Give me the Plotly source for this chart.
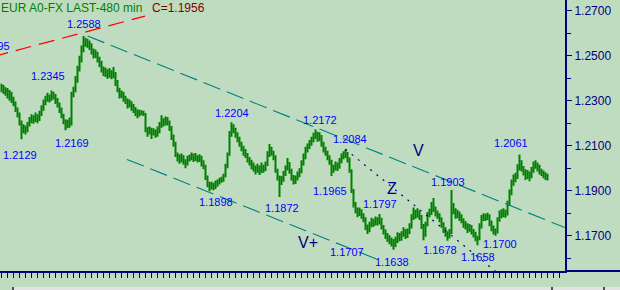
import plotly.graph_objects as go

# ---------------- data (EUR A0-FX, 480-min bars) ----------------
first_open = 1.2350
close = [
    1.2362, 1.2340, 1.2351, 1.2328, 1.2335, 1.2305, 1.2290, 1.2262, 1.2240, 1.2205,
    1.2172, 1.2180, 1.2168, 1.2195, 1.2210, 1.2222, 1.2215, 1.2230, 1.2218, 1.2240,
    1.2268, 1.2290, 1.2305, 1.2318, 1.2310, 1.2330, 1.2322, 1.2300, 1.2285, 1.2262,
    1.2235, 1.2210, 1.2190, 1.2200, 1.2195, 1.2330, 1.2345, 1.2390, 1.2440, 1.2480,
    1.2525, 1.2560, 1.2565, 1.2550, 1.2545, 1.2520, 1.2505, 1.2510, 1.2485, 1.2470,
    1.2440, 1.2425, 1.2430, 1.2415, 1.2428, 1.2410, 1.2420, 1.2385, 1.2350, 1.2325,
    1.2330, 1.2310, 1.2300, 1.2282, 1.2290, 1.2270, 1.2260, 1.2250, 1.2238, 1.2248,
    1.2245, 1.2240, 1.2170, 1.2165, 1.2172, 1.2158, 1.2165, 1.2150, 1.2162, 1.2190,
    1.2210, 1.2200, 1.2215, 1.2205, 1.2180, 1.2140, 1.2110, 1.2060, 1.2045, 1.2035,
    1.2050, 1.2030, 1.2020, 1.2040, 1.2045, 1.2055, 1.2040, 1.2050, 1.2035, 1.2045,
    1.2025, 1.2010, 1.1960, 1.1930, 1.1915, 1.1925, 1.1918, 1.1930, 1.1935, 1.1945,
    1.1950, 1.1965, 1.2010, 1.2060, 1.2150, 1.2185, 1.2170, 1.2150, 1.2130, 1.2110,
    1.2090, 1.2070, 1.2060, 1.2040, 1.2030, 1.2010, 1.2000, 1.1990, 1.2005, 1.1985,
    1.2000, 1.1995, 1.2015, 1.2060, 1.2085, 1.2070, 1.2050, 1.1990, 1.1960, 1.1940,
    1.1950, 1.1975, 1.2000, 1.2020, 1.1990, 1.1960, 1.1945, 1.1955, 1.1970, 1.1985,
    1.2020, 1.2050, 1.2080, 1.2095, 1.2110, 1.2125, 1.2140, 1.2150, 1.2130, 1.2140,
    1.2110, 1.2085, 1.2070, 1.2050, 1.2030, 1.1995, 1.2000, 1.2015, 1.2005, 1.2030,
    1.2050, 1.2060, 1.2065, 1.2040, 1.1990, 1.1900, 1.1840, 1.1815, 1.1800, 1.1810,
    1.1790, 1.1775, 1.1740, 1.1725, 1.1750, 1.1765, 1.1755, 1.1770, 1.1760, 1.1775,
    1.1740, 1.1720, 1.1700, 1.1690, 1.1680, 1.1670, 1.1660, 1.1680, 1.1700, 1.1690,
    1.1705, 1.1720, 1.1700, 1.1715, 1.1740, 1.1780, 1.1800, 1.1790, 1.1805, 1.1785,
    1.1745, 1.1700, 1.1750, 1.1790, 1.1800, 1.1830, 1.1820, 1.1800, 1.1790, 1.1775,
    1.1750, 1.1730, 1.1710, 1.1700, 1.1715, 1.1830, 1.1810, 1.1790, 1.1800, 1.1780,
    1.1770, 1.1750, 1.1745, 1.1730, 1.1740, 1.1720, 1.1710, 1.1690, 1.1685, 1.1740,
    1.1775, 1.1785, 1.1780, 1.1790, 1.1760, 1.1735, 1.1720, 1.1715, 1.1770, 1.1795,
    1.1790, 1.1805, 1.1795, 1.1840, 1.1890, 1.1935, 1.1950, 1.1960, 1.2000, 1.2020,
    1.2000, 1.1985, 1.1965, 1.1975, 1.1960, 1.1990, 1.2010, 1.2015, 1.2000, 1.1990,
    1.1980, 1.1970, 1.1960, 1.1956,
]
high = [
    1.2375, 1.2370, 1.2360, 1.2356, 1.2348, 1.2340, 1.2318, 1.2296, 1.2270, 1.2248,
    1.2212, 1.2195, 1.2190, 1.2205, 1.2228, 1.2240, 1.2235, 1.2248, 1.2240, 1.2255,
    1.2280, 1.2305, 1.2322, 1.2335, 1.2328, 1.2345, 1.2340, 1.2330, 1.2312, 1.2292,
    1.2270, 1.2242, 1.2218, 1.2215, 1.2225, 1.2340, 1.2362, 1.2410, 1.2455, 1.2500,
    1.2545, 1.2588, 1.2580, 1.2575, 1.2568, 1.2555, 1.2532, 1.2528, 1.2518, 1.2495,
    1.2478, 1.2452, 1.2448, 1.2440, 1.2445, 1.2435, 1.2450, 1.2428, 1.2392, 1.2358,
    1.2345, 1.2340, 1.2322, 1.2310, 1.2305, 1.2298, 1.2285, 1.2272, 1.2262, 1.2260,
    1.2258, 1.2255, 1.2245, 1.2182, 1.2185, 1.2180, 1.2178, 1.2172, 1.2185, 1.2205,
    1.2235, 1.2222, 1.2230, 1.2228, 1.2212, 1.2188, 1.2150, 1.2118, 1.2070, 1.2062,
    1.2065, 1.2058, 1.2040, 1.2055, 1.2060, 1.2070, 1.2065, 1.2068, 1.2058, 1.2062,
    1.2055, 1.2035, 1.2015, 1.1968, 1.1940, 1.1940, 1.1935, 1.1945, 1.1950, 1.1958,
    1.1962, 1.1975, 1.2020, 1.2070, 1.2165, 1.2204, 1.2195, 1.2180, 1.2160, 1.2140,
    1.2118, 1.2100, 1.2085, 1.2068, 1.2050, 1.2038, 1.2025, 1.2012, 1.2020, 1.2012,
    1.2025, 1.2015, 1.2030, 1.2075, 1.2108, 1.2095, 1.2078, 1.2058, 1.1998, 1.1968,
    1.1965, 1.1988, 1.2012, 1.2045, 1.2028, 1.1998, 1.1970, 1.1968, 1.1985, 1.2000,
    1.2035, 1.2065, 1.2095, 1.2110, 1.2125, 1.2140, 1.2158, 1.2172, 1.2162, 1.2160,
    1.2148, 1.2118, 1.2095, 1.2078, 1.2058, 1.2038, 1.2015, 1.2030, 1.2025, 1.2045,
    1.2065, 1.2075, 1.2084, 1.2072, 1.2048, 1.1995, 1.1908, 1.1850, 1.1825, 1.1825,
    1.1818, 1.1800, 1.1782, 1.1750, 1.1762, 1.1780, 1.1775, 1.1785, 1.1782, 1.1797,
    1.1780, 1.1748, 1.1728, 1.1712, 1.1702, 1.1692, 1.1685, 1.1695, 1.1715, 1.1712,
    1.1720, 1.1738, 1.1730, 1.1732, 1.1755, 1.1795, 1.1825, 1.1815, 1.1822, 1.1812,
    1.1792, 1.1752, 1.1762, 1.1805, 1.1820, 1.1850, 1.1868, 1.1830, 1.1812, 1.1800,
    1.1782, 1.1760, 1.1738, 1.1720, 1.1730, 1.1903, 1.1845, 1.1822, 1.1815, 1.1808,
    1.1795, 1.1778, 1.1765, 1.1755, 1.1752, 1.1748, 1.1730, 1.1718, 1.1700, 1.1755,
    1.1792, 1.1800, 1.1798, 1.1802, 1.1795, 1.1768, 1.1745, 1.1732, 1.1782, 1.1812,
    1.1818, 1.1822, 1.1815, 1.1855, 1.1905, 1.1950, 1.1972, 1.1980, 1.2018, 1.2061,
    1.2035, 1.2010, 1.1995, 1.1992, 1.1985, 1.2005, 1.2030, 1.2035, 1.2025, 1.2015,
    1.1998, 1.1990, 1.1982, 1.1975,
]
low = [
    1.2338, 1.2330, 1.2322, 1.2310, 1.2300, 1.2290, 1.2275, 1.2250, 1.2225, 1.2190,
    1.2129, 1.2155, 1.2150, 1.2160, 1.2185, 1.2200, 1.2198, 1.2205, 1.2200, 1.2210,
    1.2232, 1.2255, 1.2280, 1.2295, 1.2292, 1.2300, 1.2305, 1.2285, 1.2270, 1.2245,
    1.2222, 1.2195, 1.2169, 1.2178, 1.2180, 1.2190, 1.2315, 1.2338, 1.2380, 1.2430,
    1.2470, 1.2515, 1.2540, 1.2535, 1.2525, 1.2505, 1.2488, 1.2490, 1.2470, 1.2450,
    1.2425, 1.2410, 1.2405, 1.2398, 1.2402, 1.2395, 1.2400, 1.2365, 1.2338, 1.2310,
    1.2312, 1.2295, 1.2285, 1.2265, 1.2270, 1.2255, 1.2245, 1.2232, 1.2222, 1.2230,
    1.2235, 1.2232, 1.2160, 1.2140, 1.2150, 1.2130, 1.2145, 1.2135, 1.2140, 1.2155,
    1.2180, 1.2185, 1.2190, 1.2190, 1.2165, 1.2125, 1.2095, 1.2050, 1.2030, 1.2020,
    1.2025, 1.2015, 1.2000, 1.2012, 1.2030, 1.2035, 1.2028, 1.2032, 1.2025, 1.2028,
    1.2008, 1.1995, 1.1948, 1.1915, 1.1898, 1.1905, 1.1902, 1.1908, 1.1918, 1.1928,
    1.1935, 1.1940, 1.1960, 1.2000, 1.2055, 1.2140, 1.2155, 1.2135, 1.2115, 1.2095,
    1.2075, 1.2055, 1.2045, 1.2025, 1.2012, 1.1995, 1.1985, 1.1972, 1.1980, 1.1970,
    1.1978, 1.1980, 1.1988, 1.2010, 1.2050, 1.2055, 1.2035, 1.1980, 1.1945, 1.1872,
    1.1925, 1.1940, 1.1965, 1.1990, 1.1975, 1.1945, 1.1928, 1.1930, 1.1945, 1.1960,
    1.1978, 1.2012, 1.2040, 1.2070, 1.2085, 1.2100, 1.2115, 1.2130, 1.2118, 1.2120,
    1.2095, 1.2070, 1.2055, 1.2035, 1.2015, 1.1965, 1.1980, 1.1990, 1.1988, 1.1998,
    1.2022, 1.2040, 1.2045, 1.2025, 1.1980, 1.1890, 1.1825, 1.1800, 1.1782, 1.1788,
    1.1775, 1.1760, 1.1725, 1.1707, 1.1715, 1.1738, 1.1740, 1.1745, 1.1745, 1.1750,
    1.1728, 1.1705, 1.1685, 1.1672, 1.1662, 1.1652, 1.1638, 1.1650, 1.1668, 1.1675,
    1.1678, 1.1695, 1.1685, 1.1690, 1.1708, 1.1732, 1.1770, 1.1775, 1.1780, 1.1770,
    1.1730, 1.1680, 1.1695, 1.1742, 1.1782, 1.1792, 1.1805, 1.1785, 1.1775, 1.1760,
    1.1735, 1.1712, 1.1695, 1.1678, 1.1688, 1.1708, 1.1795, 1.1775, 1.1778, 1.1765,
    1.1755, 1.1735, 1.1728, 1.1712, 1.1718, 1.1705, 1.1692, 1.1675, 1.1658, 1.1680,
    1.1732, 1.1765, 1.1765, 1.1770, 1.1742, 1.1720, 1.1705, 1.1700, 1.1710, 1.1762,
    1.1778, 1.1782, 1.1780, 1.1790, 1.1832, 1.1880, 1.1922, 1.1938, 1.1952, 1.1990,
    1.1985, 1.1968, 1.1948, 1.1952, 1.1942, 1.1955, 1.1980, 1.1998, 1.1985, 1.1972,
    1.1965, 1.1955, 1.1948, 1.1945,
]

# swing points labelled on the chart (bar index, H = high / L = low)
pivot_index = [10, 25, 32, 41, 104, 115, 139, 157, 165, 172, 183, 189, 196, 223, 225, 238, 247, 259]
pivot_kind = ["L", "H", "L", "H", "L", "H", "L", "H", "L", "H", "L", "H", "L", "L", "H", "L", "L", "H"]

# previous high just left of the visible window
prev_high_index = -4.5
prev_high_value = 1.2495

# drawn trend lines: (x0, y0, x1, y1) in bar index / price
red_trend = (prev_high_index, prev_high_value, 71.75, 1.2676)
upper_channel = (43.0, 1.2588, 281.75, 1.1736)
lower_channel = (62.75, 1.2039, 189.25, 1.1590)
z_line = (172.0, 1.2084, 250.0, 1.1520)

# wave marks (text, bar index, price)
wave_text = ["V", "Z", "V+"]
wave_index = [208.25, 195.25, 153.25]
wave_price = [1.2080, 1.1911, 1.1671]

title_text = "EUR A0-FX LAST-480 min"

# ---------------- derived OHLC ----------------
n = len(close)
xs = list(range(n))
open_ = [first_open] + close[:-1]
high = [max(h, o, c) for h, o, c in zip(high, open_, close)]
low = [min(l, o, c) for l, o, c in zip(low, open_, close)]

# ---------------- styling ----------------
BG = "#C0DCC0"
GREEN = "#008000"
NAVY = "#000080"
BLUE = "#0000FF"
TEAL = "#008080"
FONT = "Liberation Sans, Arial, sans-serif"

W, H = 620, 290
PLOT_W, PLOT_H = 565, 271
X_RANGE = [-0.75, -0.75 + PLOT_W / 2.0]
Y_RANGE = [1.15431, 1.27476]

fig = go.Figure()

fig.add_trace(go.Ohlc(
    x=xs, open=open_, high=high, low=low, close=close,
    increasing=dict(line=dict(color=GREEN, width=2)),
    decreasing=dict(line=dict(color=GREEN, width=2)),
    tickwidth=0.5, hoverinfo="skip", showlegend=False,
))


def add_line(seg, color, dash, width=1.0):
    x0, y0, x1, y1 = seg
    fig.add_trace(go.Scatter(
        x=[x0, x1], y=[y0, y1], mode="lines",
        line=dict(color=color, width=width, dash=dash),
        hoverinfo="skip", showlegend=False,
    ))


add_line(red_trend, "#FF0000", "16px,8px", 1.2)
add_line(upper_channel, TEAL, "18px,7px", 1.1)
add_line(lower_channel, TEAL, "18px,7px", 1.1)
add_line(z_line, NAVY, "2px,6px", 1.2)

annotations = []
# per-label placement tweaks (pixels): (xshift, distance from the extreme)
label_place = {
    10: (-2, 16), 25: (-4, 15), 32: (6, 13), 41: (0, 12), 104: (6, 11),
    115: (0, 9), 139: (2, 11), 157: (4, 10), 165: (-2, 15), 172: (4, 10),
    183: (-21, 18), 189: (0, 10), 196: (-2, 12.5), 223: (-8, 9.5),
    225: (-4, 8), 238: (0, 12), 247: (4, 8.5), 259: (-9, 11),
}
for idx, kind in zip(pivot_index, pivot_kind):
    val = high[idx] if kind == "H" else low[idx]
    dx, dy = label_place.get(idx, (0, 11))
    annotations.append(dict(
        x=idx, y=val, xref="x", yref="y", text=f"{val:.4f}", showarrow=False,
        xanchor="center", yanchor="middle",
        yshift=dy if kind == "H" else -dy, xshift=dx,
        font=dict(family=FONT, size=11, color=BLUE),
    ))

# label of the earlier high (partly outside on the left)
px_prev = (prev_high_index - X_RANGE[0]) / (X_RANGE[1] - X_RANGE[0])
py_prev = (prev_high_value - Y_RANGE[0]) / (Y_RANGE[1] - Y_RANGE[0])
annotations.append(dict(
    x=px_prev, y=py_prev, xref="paper", yref="paper", text=f"{prev_high_value:.4f}",
    showarrow=False, xanchor="center", yanchor="middle", yshift=10.5,
    font=dict(family=FONT, size=11, color=BLUE),
))

for t, xi, yp in zip(wave_text, wave_index, wave_price):
    annotations.append(dict(
        x=xi, y=yp, xref="x", yref="y", text=t, showarrow=False,
        xanchor="center", yanchor="middle",
        font=dict(family=FONT, size=16, color=NAVY),
    ))

# header texts
annotations.append(dict(
    x=0, y=1 - 8 / PLOT_H, xref="paper", yref="paper", text=title_text,
    showarrow=False, xanchor="left", yanchor="middle", xshift=-1,
    font=dict(family=FONT, size=12, color=GREEN),
))
annotations.append(dict(
    x=151 / PLOT_W, y=1 - 8 / PLOT_H, xref="paper", yref="paper",
    text=f"C={close[-1]:.4f}", showarrow=False, xanchor="left", yanchor="middle",
    xshift=-1, font=dict(family=FONT, size=12, color="#800000"),
))

shapes = [
    # bottom axis line continues under the price scale
    dict(type="line", xref="paper", yref="paper", x0=1.0, x1=W / PLOT_W,
         y0=0, y1=0, line=dict(color=NAVY, width=2)),
    # scroll strip at the very bottom
    dict(type="rect", xref="paper", yref="paper", x0=12 / PLOT_W, x1=W / PLOT_W,
         y0=(PLOT_H - 290) / PLOT_H, y1=(PLOT_H - 287) / PLOT_H,
         line=dict(width=0), fillcolor="#E2E2E2"),
]
for mx in (12, 551, 603):
    shapes.append(dict(type="rect", xref="paper", yref="paper",
                       x0=mx / PLOT_W, x1=(mx + 2) / PLOT_W,
                       y0=(PLOT_H - 290) / PLOT_H, y1=(PLOT_H - 287) / PLOT_H,
                       line=dict(width=0), fillcolor="#505050"))

fig.update_layout(
    width=W, height=H,
    margin=dict(l=0, r=W - PLOT_W, t=0, b=H - PLOT_H, pad=0),
    paper_bgcolor=BG, plot_bgcolor=BG,
    showlegend=False,
    annotations=annotations,
    shapes=shapes,
    xaxis=dict(
        range=X_RANGE, rangeslider=dict(visible=False),
        showgrid=False, zeroline=False, showticklabels=False,
        showline=True, linecolor=NAVY, linewidth=2,
        ticks="outside", ticklen=5, tickwidth=1, tickcolor=NAVY,
        tickmode="array", tickvals=list(range(0, 280, 3)),
        fixedrange=True,
    ),
    yaxis=dict(
        range=Y_RANGE, side="right",
        showgrid=False, zeroline=False,
        showline=True, linecolor=NAVY, linewidth=2,
        ticks="outside", ticklen=5, tickwidth=1, tickcolor=NAVY,
        tick0=1.17, dtick=0.02, tickformat=".4f",
        tickfont=dict(family=FONT, size=12, color=NAVY),
        minor=dict(tick0=1.17, dtick=0.01, ticks="outside", ticklen=4,
                   tickwidth=1, tickcolor=NAVY, showgrid=False),
        fixedrange=True,
    ),
)

fig.write_html("out.html", config={"displayModeBar": False})
